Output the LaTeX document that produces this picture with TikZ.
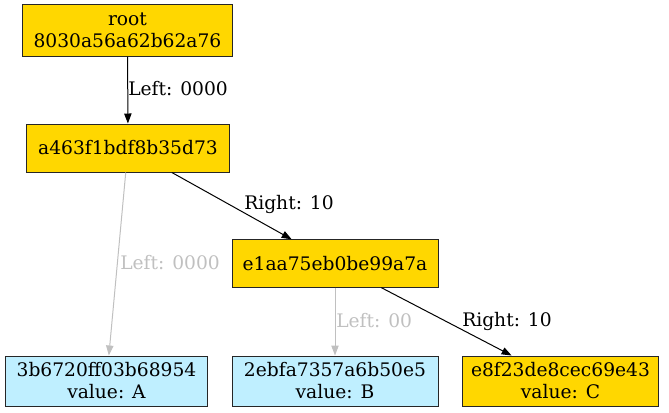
\documentclass[tikz,border=0pt]{standalone}
\usepackage{fontspec}
\setmainfont{DejaVu Serif}
\usetikzlibrary{arrows.meta}
\definecolor{hashgold}{HTML}{FFD700}
\definecolor{leafblue}{HTML}{BFEFFF}
\definecolor{weakgray}{HTML}{C0C0C0}
\tikzset{
  box/.style={draw=black!85, line width=0.75pt, inner sep=0pt, align=center,
    font=\fontsize{14}{16.5}\selectfont},
  inner/.style={box, fill=hashgold},
  leafnode/.style={box, fill=leafblue},
  link/.style={draw=black, line width=0.75pt, -{Triangle[length=7.5pt, width=5.5pt]}},
  weaklink/.style={link, draw=weakgray, -{Triangle[length=7.5pt, width=5.5pt, fill=weakgray]}},
  lbl/.style={anchor=west, inner sep=0pt, font=\fontsize{14}{16.5}\selectfont},
  weaklbl/.style={lbl, text=weakgray}
}
\begin{document}
\begin{tikzpicture}[x=0.75pt, y=-0.75pt]
  \useasboundingbox (0,0) rectangle (669,412);
  \node[inner, minimum width=158pt, minimum height=38.5pt] (root) at (127.5, 30.5) {root\\8030a56a62b62a76};
  \node[inner, minimum width=152pt, minimum height=36pt] (n1) at (128, 148) {a463f1bdf8b35d73};
  \node[inner, minimum width=154.5pt, minimum height=35.5pt] (n2) at (335, 263.5) {e1aa75eb0be99a7a};
  \node[leafnode, minimum width=152pt, minimum height=37.5pt] (leafA) at (106.5, 381) {3b6720ff03b68954\\value: A};
  \node[leafnode, minimum width=154.5pt, minimum height=37.5pt] (leafB) at (335, 381) {2ebfa7357a6b50e5\\value: B};
  \node[inner, minimum width=147pt, minimum height=37.5pt] (leafC) at (560.5, 381) {e8f23de8cec69e43\\value: C};
  \draw[link] (root) -- (n1);
  \draw[weaklink] (n1) -- (leafA);
  \draw[link] (n1) -- (n2);
  \draw[weaklink] (n2) -- (leafB);
  \draw[link] (n2) -- (leafC);
  \node[lbl] (l0) at (128, 89) {Left: 0000};
  \node[weaklbl] (l1) at (120, 263) {Left: 0000};
  \node[lbl] (l2) at (244, 204) {Right: 10};
  \node[weaklbl] (l3) at (336, 321) {Left: 00};
  \node[lbl] (l4) at (462, 321) {Right: 10};
\end{tikzpicture}
\end{document}
